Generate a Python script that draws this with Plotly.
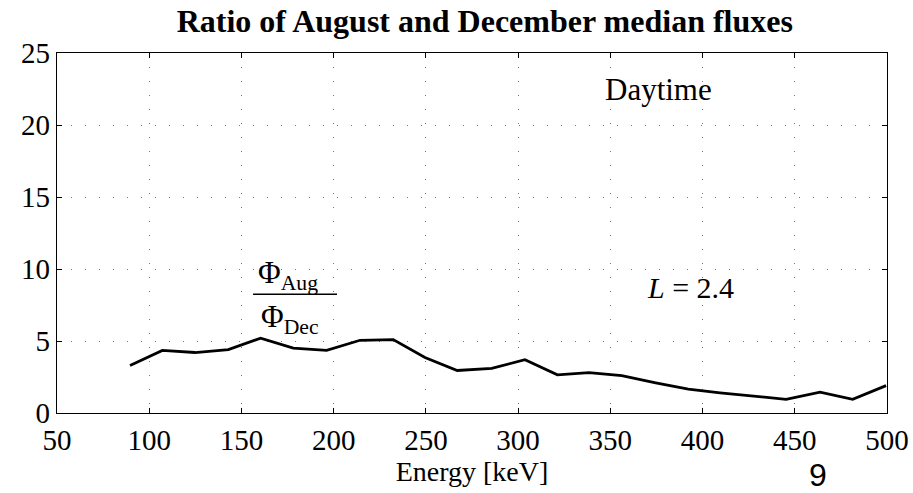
import plotly.graph_objects as go

energy_kev = [89.6, 107.1, 124.8, 142.9, 160.4, 178.1, 196.2, 214.3, 232.3, 249.5,
              267.0, 285.7, 303.7, 321.3, 338.4, 356.2, 374.6, 392.3, 409.5, 427.5,
              445.3, 463.7, 481.4, 499.5]
flux_ratio = [3.3, 4.35, 4.2, 4.4, 5.2, 4.5, 4.35, 5.05, 5.1, 3.85,
              2.95, 3.1, 3.7, 2.65, 2.8, 2.6, 2.1, 1.65, 1.4, 1.2,
              0.95, 1.45, 0.95, 1.9]
x_ticks = [50, 100, 150, 200, 250, 300, 350, 400, 450, 500]
y_ticks = [0, 5, 10, 15, 20, 25]

serif = "Liberation Serif, Times New Roman, serif"

fig = go.Figure()
fig.add_trace(go.Scatter(x=energy_kev, y=flux_ratio, mode="lines",
                         line=dict(color="black", width=2.8), showlegend=False))

axis_common = dict(
    showline=True, linecolor="black", linewidth=1.3, mirror="ticks",
    ticks="inside", ticklen=5, tickwidth=1, tickcolor="black",
    showgrid=True, gridcolor="#777777", griddash="1px,13px", gridwidth=1,
    zeroline=False, automargin=False,
    tickfont=dict(family=serif, size=29, color="black"),
)

fig.update_layout(
    width=913, height=493,
    margin=dict(l=57, r=26, t=53, b=80),
    paper_bgcolor="white", plot_bgcolor="white",
    title=dict(text="<b>Ratio of August and December median fluxes</b>",
               x=0.531, xanchor="center", y=0.958, yanchor="middle",
               font=dict(family=serif, size=32, color="black")),
    xaxis=dict(range=[50, 500], tickvals=x_ticks, ticktext=[str(v) for v in x_ticks],
               ticklabelstandoff=1,
               title=dict(text="Energy [keV]", standoff=0,
                          font=dict(family=serif, size=28, color="black")),
               **axis_common),
    yaxis=dict(range=[0, 25], tickvals=y_ticks, ticktext=[str(v) for v in y_ticks],
               **axis_common),
)

ann_font = dict(family=serif, size=31, color="black")
fig.add_annotation(x=376, y=22.45, xref="x", yref="y", text="Daytime", showarrow=False,
                   font=ann_font)
fig.add_annotation(x=393.7, y=8.7, xref="x", yref="y", text="<i>L</i> = 2.4", showarrow=False,
                   font=dict(family=serif, size=30, color="black"))
fig.add_annotation(x=175.5, y=9.6, xref="x", yref="y", text="Φ<sub>Aug</sub>", showarrow=False,
                   font=dict(family=serif, size=31, color="black"))
fig.add_annotation(x=176.5, y=6.5, xref="x", yref="y", text="Φ<sub>Dec</sub>", showarrow=False,
                   font=dict(family=serif, size=31, color="black"))
fig.add_shape(type="line", xref="x", yref="y", x0=156.3, x1=201.8, y0=8.25, y1=8.25,
              line=dict(color="black", width=1.5))
fig.add_annotation(x=0.917, y=-0.172, xref="paper", yref="paper", text="9", showarrow=False,
                   xanchor="center", yanchor="middle",
                   font=dict(family="Liberation Sans, Arial, sans-serif", size=32, color="black"))

fig.write_html("out.html")
